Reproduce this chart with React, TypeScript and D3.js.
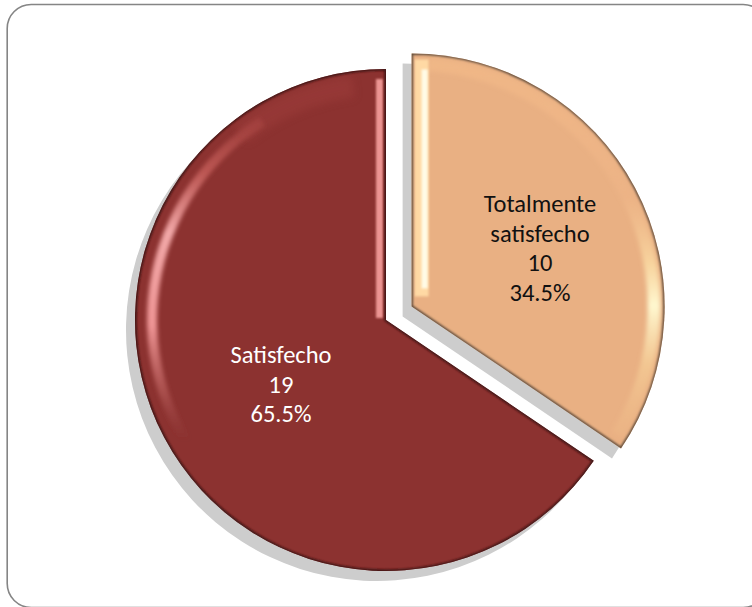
import React from "react";
import * as d3 from "d3";

const categories = ["Totalmente satisfecho", "Satisfecho"];
const counts = [10, 19];
const percents = ["34.5%", "65.5%"];
const labelLines = [["Totalmente", "satisfecho"], ["Satisfecho"]];
const fills = ["#e9b083", "#8c3230"];
const textColours = ["#111111", "#ffffff"];

const W = 752, H = 607;
const cx = 386, cy = 320, R = 251;
const explode = [29, 0];
const lineH = 29.6;
const labelPos = [[540, 212], [281, 363]];
const deg = Math.PI / 180;

export default function App() {
  const pie = d3.pie<number>().sort(null).value((d) => d);
  const arcs = pie(counts);
  const arc = d3.arc<d3.PieArcDatum<number>>().innerRadius(0);
  const rFor = (i: number) => (i === 0 ? 253 : R);
  const offset = (a: d3.PieArcDatum<number>, i: number) => {
    const mid = (a.startAngle + a.endAngle) / 2;
    return [cx + explode[i] * Math.sin(mid), cy - explode[i] * Math.cos(mid)];
  };
  const paths = arcs.map((a, i) => arc.outerRadius(rFor(i))(a) as string);
  const band = d3.arc<any>();
  const ring = (r0: number, r1: number, a0: number, a1: number) =>
    band({ innerRadius: r0, outerRadius: r1, startAngle: a0 * deg, endAngle: a1 * deg }) as string;

  const [px, py] = offset(arcs[0], 0);
  const [mx, my] = offset(arcs[1], 1);
  const Rp = rFor(0);

  return (
    <svg width={W} height={H} viewBox={`0 0 ${W} ${H}`}
      style={{ position: "absolute", left: 0, top: 0, background: "#fff" }}
      fontFamily="Carlito, Lato, 'Open Sans', sans-serif">
      <defs>
        <filter id="b3" x="-30%" y="-30%" width="160%" height="160%"><feGaussianBlur stdDeviation="4" /></filter>
        <filter id="b2" x="-30%" y="-30%" width="160%" height="160%"><feGaussianBlur stdDeviation="2" /></filter>
        <filter id="b1" x="-40%" y="-10%" width="180%" height="120%"><feGaussianBlur stdDeviation="1" /></filter>
        <filter id="b05" x="-10%" y="-10%" width="120%" height="120%"><feGaussianBlur stdDeviation="0.4" /></filter>
        <linearGradient id="hlM" gradientUnits="userSpaceOnUse" x1="0" y1={105 - my} x2="0" y2={440 - my}>
          <stop offset="0" stopColor="#b8504c" stopOpacity="0.25" />
          <stop offset="0.2" stopColor="#c8605c" stopOpacity="0.8" />
          <stop offset="0.38" stopColor="#f2a8a8" stopOpacity="1" />
          <stop offset="0.66" stopColor="#ee9494" stopOpacity="1" />
          <stop offset="0.85" stopColor="#c06462" stopOpacity="0.6" />
          <stop offset="1" stopColor="#a04a48" stopOpacity="0" />
        </linearGradient>
        <linearGradient id="rimP" gradientUnits="userSpaceOnUse" x1="0" y1={60 - py} x2="0" y2={450 - py}>
          <stop offset="0" stopColor="#f3ba88" stopOpacity="0.7" />
          <stop offset="0.35" stopColor="#f2b88a" stopOpacity="0.4" />
          <stop offset="0.52" stopColor="#fbdca4" stopOpacity="0.8" />
          <stop offset="0.63" stopColor="#fff8d0" stopOpacity="1" />
          <stop offset="0.78" stopColor="#f6d098" stopOpacity="0.7" />
          <stop offset="1" stopColor="#efb886" stopOpacity="0.2" />
        </linearGradient>
        {arcs.map((a, i) => {
          const [x, y] = offset(a, i);
          return (
            <clipPath id={`clip${i}`} key={i}>
              <path d={paths[i]} transform={`translate(${x},${y})`} />
            </clipPath>
          );
        })}
      </defs>

      <rect x={7.2} y={4.5} width={760} height={603} rx={24} ry={24} fill="#fff" stroke="#858585" strokeWidth={1.6} />

      {arcs.map((a, i) => {
        const [x, y] = offset(a, i);
        return <path key={i} d={paths[i]} transform={`translate(${x - 9},${y + 10})`} fill="#cdcdcd" filter="url(#b05)" />;
      })}

      {/* Satisfecho slice */}
      <path d={paths[1]} transform={`translate(${mx},${my})`} fill={fills[1]} />
      <g clipPath="url(#clip1)">
        <path d={ring(R - 22, R - 12, 222, 328)} transform={`translate(${mx},${my})`} fill="url(#hlM)" filter="url(#b2)" />
        <path d={ring(R - 26, R - 4, 322, 352)} transform={`translate(${mx},${my})`} fill="#a84542" opacity={0.35} filter="url(#b3)" />
        <rect x={mx - 10} y={my - R + 10} width={7} height={R - 12} fill="#ec9492" filter="url(#b1)" />
        <path d={paths[1]} transform={`translate(${mx},${my})`} fill="none" stroke="#3c1414" strokeWidth={3.2} filter="url(#b1)" />
      </g>

      {/* Totalmente satisfecho slice */}
      <path d={paths[0]} transform={`translate(${px},${py})`} fill={fills[0]} />
      <g clipPath="url(#clip0)">
        <path d={ring(Rp - 17, Rp - 4, 4, 122)} transform={`translate(${px},${py})`} fill="url(#rimP)" filter="url(#b2)" />
        <rect x={px + 3} y={py - Rp + 6} width={14} height={Rp - 16} fill="#ffd9a4" filter="url(#b1)" />
        <rect x={px + 10} y={py - Rp + 16} width={6} height={Rp - 34} fill="#fffbe6" filter="url(#b1)" />
        <path d={paths[0]} transform={`translate(${px},${py})`} fill="none" stroke="#5b4a3a" strokeWidth={2.8} filter="url(#b1)" />
      </g>

      {arcs.map((a, i) => {
        const lines = [...labelLines[i], String(counts[i]), percents[i]];
        return (
          <text key={categories[i]} textAnchor="middle" fontSize={24.5} fill={textColours[i]}>
            {lines.map((t, j) => (
              <tspan key={j} x={labelPos[i][0]} y={labelPos[i][1] + j * lineH}>{t}</tspan>
            ))}
          </text>
        );
      })}
    </svg>
  );
}
